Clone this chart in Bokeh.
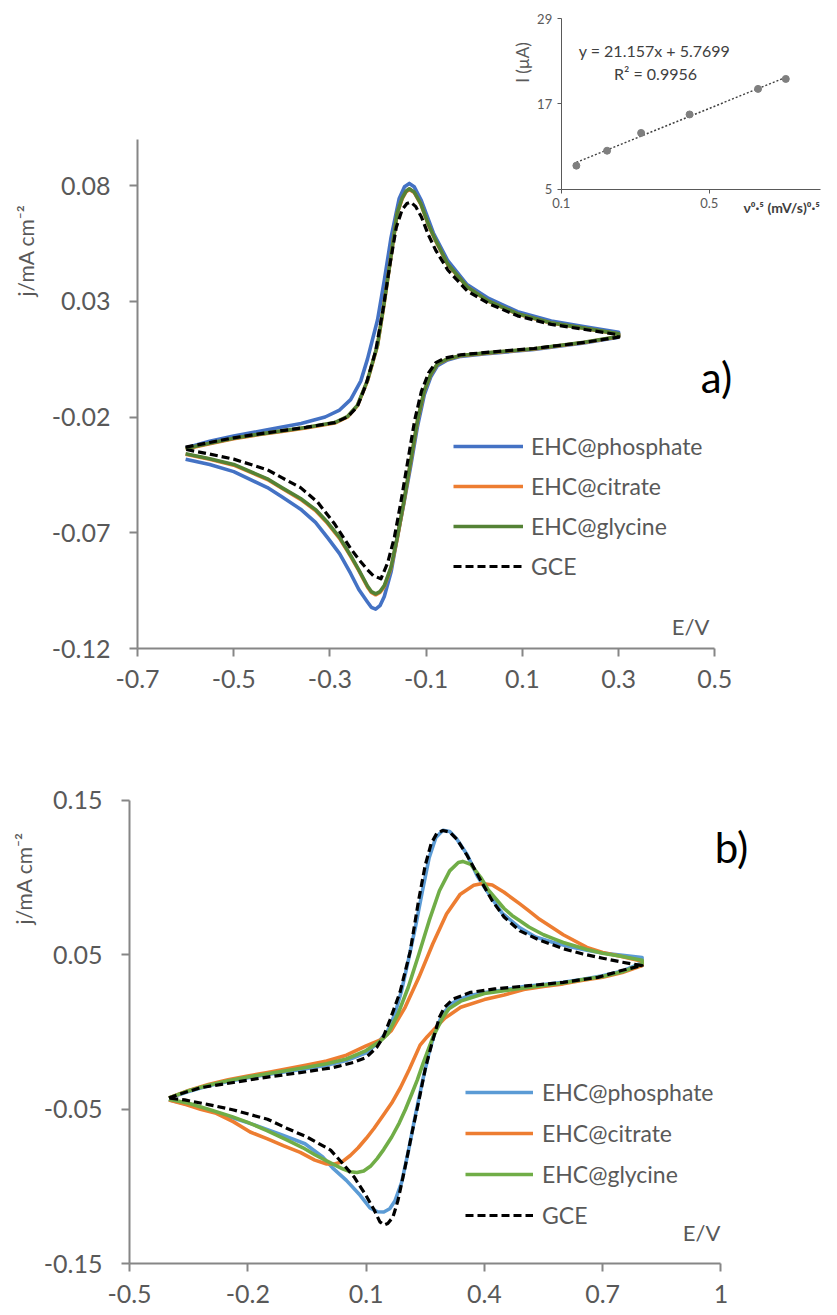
import math
from bokeh.plotting import figure
from bokeh.models import (Range1d, LinearAxis, FixedTicker, NumeralTickFormatter,
                          Label, Legend, LegendItem)
from bokeh.layouts import column
from bokeh.embed import file_html
from bokeh.resources import INLINE

# ---------------- DATA ----------------
series_names = ["EHC@phosphate", "EHC@citrate", "EHC@glycine", "GCE"]

# Panel a) : anodic (forward) then cathodic (reverse) branches, E in V, j in mA cm-2
a_phos_E = [-0.60, -0.55, -0.50, -0.43, -0.36, -0.31, -0.28, -0.257, -0.236, -0.222, -0.201, -0.187, -0.173, -0.156, -0.145,
            -0.135, -0.125, -0.11, -0.085, -0.055, -0.015, 0.03, 0.09, 0.16, 0.23, 0.30,
            0.30, 0.228, 0.124, 0.02, -0.028, -0.0556, -0.0764, -0.090, -0.104, -0.118, -0.132, -0.146, -0.160,
            -0.173, -0.187, -0.196, -0.205, -0.214, -0.222, -0.24, -0.257, -0.28, -0.305, -0.33, -0.361, -0.40, -0.43, -0.50, -0.55, -0.60]
a_phos_j = [-0.0334, -0.0305, -0.0282, -0.0255, -0.0228, -0.0200, -0.0170, -0.0125, -0.0045, 0.0050, 0.0220, 0.0390, 0.0575, 0.0744, 0.0795,
            0.0809, 0.0795, 0.0735, 0.0595, 0.0475, 0.0372, 0.0312, 0.0255, 0.0215, 0.0190, 0.0166,
            0.0145, 0.0120, 0.0092, 0.0072, 0.0062, 0.0046, 0.0022, -0.0025, -0.0105, -0.0240, -0.0410, -0.0570, -0.0720,
            -0.0870, -0.0975, -0.1015, -0.1030, -0.1022, -0.0999, -0.0945, -0.0876, -0.0790, -0.0721, -0.0655, -0.0598, -0.0545, -0.0505, -0.0436, -0.0405, -0.0382]

a_cit_E = [-0.60, -0.55, -0.50, -0.45, -0.40, -0.35, -0.29, -0.263, -0.243, -0.222, -0.201, -0.187, -0.173, -0.160, -0.150,
           -0.142, -0.135, -0.125, -0.111, -0.095, -0.0835, -0.0556, -0.014, 0.0275, 0.09, 0.159, 0.228, 0.30,
           0.30, 0.228, 0.124, 0.02, -0.028, -0.0556, -0.0764, -0.090, -0.104, -0.118, -0.132, -0.146, -0.160, -0.173,
           -0.187, -0.196, -0.205, -0.214, -0.222, -0.24, -0.257, -0.28, -0.305, -0.33, -0.361, -0.40, -0.43, -0.50, -0.55, -0.60]
a_cit_j = [-0.0338, -0.0315, -0.0294, -0.0277, -0.0262, -0.0247, -0.0226, -0.0199, -0.0152, -0.0044, 0.0110, 0.0295, 0.0496, 0.0680, 0.0742,
           0.0772, 0.0783, 0.0770, 0.0719, 0.0628, 0.0575, 0.0460, 0.0360, 0.0302, 0.0245, 0.0206, 0.0183, 0.0158,
           0.0147, 0.0122, 0.0094, 0.0075, 0.0065, 0.0050, 0.0029, -0.0014, -0.0088, -0.0218, -0.0392, -0.0565, -0.0724, -0.0853,
           -0.0933, -0.0958, -0.0968, -0.0958, -0.0934, -0.0864, -0.0802, -0.0724, -0.0659, -0.0604, -0.0556, -0.0508, -0.0470, -0.0408, -0.0382, -0.0361]

a_gly_E = [-0.60, -0.55, -0.50, -0.45, -0.40, -0.35, -0.29, -0.263, -0.243, -0.222, -0.201, -0.187, -0.173, -0.160, -0.150,
           -0.142, -0.135, -0.125, -0.111, -0.095, -0.0835, -0.0556, -0.014, 0.0275, 0.09, 0.159, 0.228, 0.30,
           0.30, 0.228, 0.124, 0.02, -0.028, -0.0556, -0.0764, -0.090, -0.104, -0.118, -0.132, -0.146, -0.160, -0.173,
           -0.187, -0.196, -0.205, -0.214, -0.222, -0.24, -0.257, -0.28, -0.305, -0.33, -0.361, -0.40, -0.43, -0.50, -0.55, -0.60]
a_gly_j = [-0.0336, -0.0313, -0.0292, -0.0275, -0.0260, -0.0245, -0.0224, -0.0197, -0.0150, -0.0042, 0.0112, 0.0297, 0.0498, 0.0683, 0.0745,
           0.0775, 0.0786, 0.0772, 0.0721, 0.0630, 0.0577, 0.0462, 0.0361, 0.0303, 0.0246, 0.0207, 0.0184, 0.0159,
           0.0148, 0.0123, 0.0095, 0.0076, 0.0066, 0.0051, 0.0030, -0.0013, -0.0086, -0.0215, -0.0388, -0.0561, -0.0719, -0.0849,
           -0.0928, -0.0954, -0.0964, -0.0954, -0.0930, -0.0860, -0.0798, -0.0720, -0.0655, -0.0600, -0.0552, -0.0505, -0.0467, -0.0405, -0.0380, -0.0359]

a_gce_E = [-0.60, -0.55, -0.50, -0.45, -0.40, -0.35, -0.29, -0.263, -0.243, -0.225, -0.205, -0.19, -0.176, -0.162, -0.150,
           -0.140, -0.132, -0.122, -0.11, -0.095, -0.08, -0.055, -0.015, 0.03, 0.09, 0.16, 0.23, 0.30,
           0.30, 0.228, 0.124, 0.02, -0.028, -0.06, -0.08, -0.095, -0.11, -0.124, -0.138, -0.152, -0.166, -0.18,
           -0.194, -0.21, -0.222, -0.24, -0.257, -0.291, -0.326, -0.361, -0.40, -0.43, -0.50, -0.55, -0.60]
a_gce_j = [-0.0330, -0.0310, -0.0290, -0.0274, -0.0259, -0.0245, -0.0224, -0.0199, -0.0155, -0.0060, 0.0085, 0.0260, 0.0450, 0.0620, 0.0695,
           0.0722, 0.0728, 0.0710, 0.0665, 0.0585, 0.0520, 0.0435, 0.0345, 0.0290, 0.0237, 0.0200, 0.0178, 0.0155,
           0.0145, 0.0122, 0.0096, 0.0078, 0.0069, 0.0055, 0.0035, -0.0010, -0.0090, -0.0215, -0.0388, -0.0561, -0.0719, -0.0830,
           -0.0899, -0.0885, -0.0860, -0.0815, -0.0768, -0.0660, -0.0567, -0.0505, -0.0462, -0.0428, -0.0382, -0.0360, -0.0340]

# Panel b)
b_phos_E = [-0.40, -0.35, -0.30, -0.25, -0.20, -0.15, -0.10, -0.05, 0.00, 0.05, 0.10, 0.13, 0.155, 0.173, 0.19, 0.207,
            0.225, 0.243, 0.26, 0.277, 0.295, 0.312, 0.33, 0.356, 0.382, 0.406, 0.445, 0.49, 0.53, 0.575, 0.62, 0.66,
            0.70, 0.75, 0.80,
            0.80, 0.75, 0.70, 0.65, 0.60, 0.55, 0.50, 0.45, 0.40, 0.36, 0.32, 0.295, 0.277, 0.26, 0.243, 0.225, 0.207,
            0.19, 0.173, 0.16, 0.145, 0.128, 0.11, 0.085, 0.05, 0.015, -0.01, -0.055, -0.115, -0.185, -0.27, -0.36, -0.40]
b_phos_j = [-0.0427, -0.0385, -0.0348, -0.0320, -0.0296, -0.0275, -0.0256, -0.0237, -0.0215, -0.0185, -0.0135, -0.0070, 0.0009, 0.0117, 0.0268, 0.0462,
            0.0678, 0.0915, 0.1130, 0.1260, 0.1307, 0.1299, 0.1250, 0.1150, 0.1010, 0.0915, 0.0770, 0.0675, 0.0615, 0.0580, 0.0550, 0.0530,
            0.0512, 0.0497, 0.0483,
            0.0450, 0.0395, 0.0365, 0.0342, 0.0322, 0.0308, 0.0295, 0.0272, 0.0255, 0.0235, 0.0190, 0.0120, 0.0020, -0.0130, -0.0320, -0.0540, -0.0775,
            -0.0975, -0.1095, -0.1145, -0.1166, -0.1164, -0.1140, -0.1058, -0.0961, -0.0880, -0.0810, -0.0724, -0.0665, -0.0600, -0.0530, -0.0465, -0.0439]

b_cit_E = [-0.40, -0.35, -0.30, -0.25, -0.20, -0.15, -0.10, -0.05, 0.00, 0.05, 0.10, 0.138, 0.164, 0.199, 0.234, 0.269,
           0.304, 0.339, 0.373, 0.395, 0.42, 0.45, 0.49, 0.513, 0.54, 0.575, 0.60, 0.66, 0.70, 0.745, 0.80,
           0.80, 0.75, 0.70, 0.65, 0.60, 0.55, 0.50, 0.45, 0.40, 0.34, 0.30, 0.28, 0.255, 0.237, 0.21, 0.187, 0.165,
           0.144, 0.12, 0.10, 0.08, 0.06, 0.04, 0.02, 0.0, -0.03, -0.067, -0.11, -0.15, -0.194, -0.236, -0.28, -0.32,
           -0.355, -0.40]
b_cit_j = [-0.0427, -0.0378, -0.0340, -0.0310, -0.0285, -0.0262, -0.0238, -0.0214, -0.0188, -0.0150, -0.0090, -0.0050, 0.0009, 0.0160, 0.0354, 0.0570,
           0.0764, 0.0893, 0.0950, 0.0962, 0.0952, 0.0905, 0.0830, 0.0785, 0.0730, 0.0672, 0.0630, 0.0548, 0.0515, 0.0490, 0.0458,
           0.0430, 0.0385, 0.0355, 0.0335, 0.0312, 0.0295, 0.0275, 0.0240, 0.0210, 0.0160, 0.0090, 0.0037, -0.0030, -0.0085, -0.0240, -0.0361, -0.0460,
           -0.0538, -0.0625, -0.0690, -0.0750, -0.0800, -0.0840, -0.0855, -0.0855, -0.0830, -0.0780, -0.0736, -0.0692, -0.0648, -0.0582, -0.0527, -0.0500,
           -0.0471, -0.0440]

b_gly_E = [-0.40, -0.35, -0.30, -0.25, -0.20, -0.15, -0.10, -0.05, 0.00, 0.05, 0.10, 0.138, 0.155, 0.181, 0.207, 0.234,
           0.26, 0.286, 0.312, 0.334, 0.345, 0.365, 0.391, 0.41, 0.43, 0.45, 0.47, 0.49, 0.513, 0.55, 0.575, 0.60,
           0.66, 0.70, 0.75, 0.80,
           0.80, 0.75, 0.70, 0.65, 0.60, 0.55, 0.50, 0.45, 0.40, 0.34, 0.31, 0.295, 0.27, 0.245, 0.23, 0.216, 0.20,
           0.184, 0.165, 0.145, 0.128, 0.111, 0.094, 0.077, 0.06, 0.042, 0.02, 0.0, -0.03, -0.06, -0.10, -0.15, -0.20,
           -0.24, -0.30, -0.35, -0.40]
b_gly_j = [-0.0427, -0.0380, -0.0345, -0.0316, -0.0292, -0.0270, -0.0249, -0.0228, -0.0205, -0.0175, -0.0120, -0.0055, -0.0012, 0.0117, 0.0290, 0.0505,
           0.0721, 0.0915, 0.1044, 0.1098, 0.1105, 0.1087, 0.1001, 0.0920, 0.0860, 0.0800, 0.0755, 0.0721, 0.0680, 0.0630, 0.0605, 0.0580,
           0.0534, 0.0510, 0.0489, 0.0465,
           0.0440, 0.0390, 0.0360, 0.0340, 0.0318, 0.0302, 0.0285, 0.0268, 0.0250, 0.0200, 0.0150, 0.0096, -0.0030, -0.0200, -0.0310, -0.0400, -0.0500,
           -0.0590, -0.0680, -0.0760, -0.0820, -0.0870, -0.0900, -0.0910, -0.0905, -0.0888, -0.0860, -0.0835, -0.0795, -0.0750, -0.0700, -0.0640, -0.0585,
           -0.0548, -0.0500, -0.0462, -0.0435]

b_gce_E = [-0.40, -0.37, -0.32, -0.236, -0.15, -0.067, 0.017, 0.068, 0.10, 0.127, 0.144, 0.161, 0.186, 0.212, 0.233, 0.25,
           0.265, 0.28, 0.295, 0.312, 0.33, 0.356, 0.39, 0.42, 0.45, 0.49, 0.54, 0.60, 0.65, 0.70, 0.75, 0.80,
           0.80, 0.75, 0.688, 0.60, 0.513, 0.426, 0.365, 0.321, 0.299, 0.286, 0.269, 0.251, 0.234, 0.216, 0.199, 0.181,
           0.168, 0.155, 0.146, 0.135, 0.12, 0.10, 0.07, 0.04, 0.01, -0.05, -0.10, -0.15, -0.236, -0.30, -0.36, -0.40]
b_gce_j = [-0.0427, -0.0400, -0.0361, -0.0327, -0.0292, -0.0263, -0.0230, -0.0197, -0.0165, -0.0100, -0.0030, 0.0081, 0.0257, 0.0523, 0.0850, 0.1080,
           0.1220, 0.1290, 0.1305, 0.1295, 0.1250, 0.1145, 0.0985, 0.0850, 0.0745, 0.0655, 0.0595, 0.0540, 0.0505, 0.0478, 0.0452, 0.0430,
           0.0430, 0.0400, 0.0354, 0.0322, 0.0300, 0.0279, 0.0257, 0.0214, 0.0160, 0.0096, -0.0055, -0.0228, -0.0443, -0.0659, -0.0875, -0.1090,
           -0.1200, -0.1240, -0.1250, -0.1230, -0.1150, -0.1060, -0.0940, -0.0850, -0.0765, -0.0680, -0.0625, -0.0565, -0.0505, -0.0470, -0.0440, -0.0427]

# Inset: peak current vs square root of scan rate
inset_x = [0.141, 0.224, 0.316, 0.447, 0.632, 0.707]
inset_y = [8.3, 10.4, 12.9, 15.5, 19.1, 20.5]
fit_slope = 21.157
fit_intercept = 5.7699
fit_r2 = 0.9956

a_xticks = [-0.7, -0.5, -0.3, -0.1, 0.1, 0.3, 0.5]
a_yticks = [-0.12, -0.07, -0.02, 0.03, 0.08]
b_xticks = [-0.5, -0.2, 0.1, 0.4, 0.7, 1.0]
b_yticks = [-0.15, -0.05, 0.05, 0.15]
inset_xticks = [0.1, 0.5]
inset_yticks = [5, 17, 29]

colors_a = ["#4472C4", "#ED7D31", "#548235", "black"]
colors_b = ["#5B9BD5", "#ED7D31", "#70AD47", "black"]

FONT = "Lato"
AXIS_GREY = "#868686"
TEXT_GREY = "#595959"
W = 837

# ---------------- helpers ----------------
def style_axis(ax, size="25px", standoff=14):
    ax.axis_line_color = AXIS_GREY
    ax.axis_line_width = 2
    ax.major_tick_line_color = AXIS_GREY
    ax.major_tick_line_width = 2
    ax.major_tick_out = 8
    ax.major_tick_in = 0
    ax.minor_tick_line_color = None
    ax.major_label_text_font = FONT
    ax.major_label_text_font_size = size
    ax.major_label_text_color = TEXT_GREY
    ax.major_label_standoff = standoff


def style_inset_axis(ax):
    ax.axis_line_color = "#595959"
    ax.axis_line_width = 1
    ax.major_tick_line_color = "#595959"
    ax.major_tick_line_width = 1
    ax.major_tick_out = 4
    ax.major_tick_in = 0
    ax.minor_tick_line_color = None
    ax.major_label_text_font = FONT
    ax.major_label_text_font_size = "13px"
    ax.major_label_text_color = TEXT_GREY
    ax.major_label_standoff = 5


# ---------------- figure 1 : panel a + inset ----------------
H1 = 760
A_AX, A_B = 137, 648          # pixel x of the E=-0.7 axis, pixel y of the j=-0.12 axis
a_px_per_V = 481.1
a_px_per_j = 2315.0
a_x_start = -0.7 - A_AX / a_px_per_V
a_x_end = -0.7 + (W - A_AX) / a_px_per_V
a_y_start = -0.12 - (H1 - A_B) / a_px_per_j
a_y_end = -0.12 + A_B / a_px_per_j

p1 = figure(width=W, height=H1, output_backend="svg", toolbar_location=None,
            x_range=Range1d(a_x_start, a_x_end), y_range=Range1d(a_y_start, a_y_end),
            x_axis_type=None, y_axis_type=None,
            min_border_left=0, min_border_right=0, min_border_top=0, min_border_bottom=0)
p1.outline_line_color = None
p1.background_fill_color = "white"
p1.border_fill_color = "white"

xa = LinearAxis(ticker=FixedTicker(ticks=a_xticks), bounds=(-0.7, 0.5), fixed_location=-0.12,
                formatter=NumeralTickFormatter(format="0.0"))
style_axis(xa, standoff=13)
ya = LinearAxis(ticker=FixedTicker(ticks=a_yticks), bounds=(-0.12, 0.10), fixed_location=-0.7,
                formatter=NumeralTickFormatter(format="0.00"))
style_axis(ya, standoff=19)
p1.add_layout(xa, "below")
p1.add_layout(ya, "left")

# inset ranges (mapped into the upper right of the same canvas)
ins_px_per_x = 370.0
ins_px_per_y = 7.108
ins_x0_px, ins_y0_px = 560.7, 188.6  # pixel of (0.1, 5)
ix_start = 0.1 - ins_x0_px / ins_px_per_x
ix_end = 0.1 + (W - ins_x0_px) / ins_px_per_x
iy_end = 5 + ins_y0_px / ins_px_per_y
iy_start = 5 - (H1 - ins_y0_px) / ins_px_per_y
p1.extra_x_ranges = {"ix": Range1d(ix_start, ix_end)}
p1.extra_y_ranges = {"iy": Range1d(iy_start, iy_end)}

ixa = LinearAxis(x_range_name="ix", y_range_name="iy", fixed_location=5, bounds=(0.1, 0.8),
                 ticker=FixedTicker(ticks=inset_xticks), formatter=NumeralTickFormatter(format="0.0"))
style_inset_axis(ixa)
iya = LinearAxis(x_range_name="ix", y_range_name="iy", fixed_location=0.1, bounds=(5, 29),
                 ticker=FixedTicker(ticks=inset_yticks))
style_inset_axis(iya)
p1.add_layout(ixa, "below")
p1.add_layout(iya, "left")

fit_x = [min(inset_x), max(inset_x)]
fit_y = [fit_slope * v + fit_intercept for v in fit_x]
p1.line(fit_x, fit_y, x_range_name="ix", y_range_name="iy", line_color="#404040",
        line_width=1.5, line_dash="2 2")
p1.scatter(inset_x, inset_y, x_range_name="ix", y_range_name="iy", size=7,
           fill_color="#7F7F7F", line_color="#7F7F7F")


def ins(px, py):
    return 0.1 + (px - ins_x0_px) / ins_px_per_x, 5 + (ins_y0_px - py) / ins_px_per_y


ex, ey = ins(654, 50)
p1.add_layout(Label(x=ex, y=ey, x_range_name="ix", y_range_name="iy",
                    text="y = %.3fx + %.4f" % (fit_slope, fit_intercept),
                    text_font=FONT, text_font_size="16px", text_color="#404040",
                    text_align="center", text_baseline="middle"))
ex, ey = ins(655, 73)
p1.add_layout(Label(x=ex, y=ey, x_range_name="ix", y_range_name="iy",
                    text="R\u00b2 = %.4f" % fit_r2,
                    text_font=FONT, text_font_size="16px", text_color="#404040",
                    text_align="center", text_baseline="middle"))
ex, ey = ins(522, 62)
p1.add_layout(Label(x=ex, y=ey, x_range_name="ix", y_range_name="iy",
                    text="I (\u00b5A)", angle=math.pi / 2,
                    text_font=FONT, text_font_size="17px", text_color=TEXT_GREY,
                    text_align="center", text_baseline="middle"))
ex, ey = ins(743, 207)
p1.add_layout(Label(x=ex, y=ey, x_range_name="ix", y_range_name="iy",
                    text="\u03bd\u2070\u00b7\u2075 (mV/s)\u2070\u00b7\u2075",
                    text_font=FONT, text_font_size="14px", text_font_style="bold",
                    text_color="#404040", text_align="left", text_baseline="middle"))

# panel a curves
a_series = [(a_phos_E, a_phos_j), (a_cit_E, a_cit_j), (a_gly_E, a_gly_j), (a_gce_E, a_gce_j)]
a_rend = []
for (E, j), c, name in zip(a_series, colors_a, series_names):
    if name == "GCE":
        r = p1.line(E, j, line_color=c, line_width=3.2, line_dash="8 4", line_join="round")
    else:
        r = p1.line(E, j, line_color=c, line_width=3.6, line_join="round")
    a_rend.append(r)


def a_data(px, py):
    return -0.7 + (px - A_AX) / a_px_per_V, 0.08 - (py - 185) / a_px_per_j


lx, ly = a_data(25, 250)
p1.add_layout(Label(x=lx, y=ly, text="j/mA cm\u207b\u00b2", angle=math.pi / 2,
                    text_font=FONT, text_font_size="21px", text_color=TEXT_GREY,
                    text_align="center", text_baseline="middle"))
lx, ly = a_data(690, 626)
p1.add_layout(Label(x=lx, y=ly, text="E/V", text_font=FONT, text_font_size="22px",
                    text_color=TEXT_GREY, text_align="center", text_baseline="middle"))
lx, ly = a_data(716, 376)
p1.add_layout(Label(x=lx, y=ly, text="a)", text_font=FONT, text_font_size="42px",
                    text_color="black", text_align="center", text_baseline="middle"))

leg_a = Legend(items=[LegendItem(label=n, renderers=[r]) for n, r in zip(series_names, a_rend)],
               location=(316 + A_AX, 68 + (H1 - A_B)), orientation="vertical",
               glyph_width=70, glyph_height=20, label_standoff=8, spacing=12,
               padding=0, margin=0, border_line_alpha=0, background_fill_alpha=0,
               label_text_font=FONT, label_text_font_size="23px", label_text_color=TEXT_GREY,
               label_height=20)
p1.add_layout(leg_a, "center")

# ---------------- figure 2 : panel b ----------------
H2 = 1315 - H1
B_AX = 129                     # pixel x of the E=-0.5 axis
B_T_abs, B_B_abs = 800, 1263   # absolute pixel y of j=0.15 and j=-0.15
b_px_per_V = 394.3
b_px_per_j = 1546.0
b_x_start = -0.5 - B_AX / b_px_per_V
b_x_end = -0.5 + (W - B_AX) / b_px_per_V
b_y_end = 0.15 + (B_T_abs - H1) / b_px_per_j
b_y_start = -0.15 - (1315 - B_B_abs) / b_px_per_j

p2 = figure(width=W, height=H2, output_backend="svg", toolbar_location=None,
            x_range=Range1d(b_x_start, b_x_end), y_range=Range1d(b_y_start, b_y_end),
            x_axis_type=None, y_axis_type=None,
            min_border_left=0, min_border_right=0, min_border_top=0, min_border_bottom=0)
p2.outline_line_color = None
p2.background_fill_color = "white"
p2.border_fill_color = "white"

xb = LinearAxis(ticker=FixedTicker(ticks=b_xticks), bounds=(-0.5, 1.0), fixed_location=-0.15,
                formatter=NumeralTickFormatter(format="0.0"),
                major_label_overrides={1.0: "1"})
style_axis(xb, standoff=13)
yb = LinearAxis(ticker=FixedTicker(ticks=b_yticks), bounds=(-0.15, 0.15), fixed_location=-0.5,
                formatter=NumeralTickFormatter(format="0.00"))
style_axis(yb, standoff=19)
p2.add_layout(xb, "below")
p2.add_layout(yb, "left")

b_series = [(b_phos_E, b_phos_j), (b_cit_E, b_cit_j), (b_gly_E, b_gly_j), (b_gce_E, b_gce_j)]
b_rend = []
for (E, j), c, name in zip(b_series, colors_b, series_names):
    if name == "GCE":
        r = p2.line(E, j, line_color=c, line_width=3.2, line_dash="8 4", line_join="round")
    else:
        r = p2.line(E, j, line_color=c, line_width=3.6, line_join="round")
    b_rend.append(r)


def b_data(px, py):
    return -0.5 + (px - B_AX) / b_px_per_V, 0.15 - (py - B_T_abs) / b_px_per_j


lx, ly = b_data(23, 878)
p2.add_layout(Label(x=lx, y=ly, text="j/mA cm\u207b\u00b2", angle=math.pi / 2,
                    text_font=FONT, text_font_size="21px", text_color=TEXT_GREY,
                    text_align="center", text_baseline="middle"))
lx, ly = b_data(701, 1233)
p2.add_layout(Label(x=lx, y=ly, text="E/V", text_font=FONT, text_font_size="22px",
                    text_color=TEXT_GREY, text_align="center", text_baseline="middle"))
lx, ly = b_data(731, 847)
p2.add_layout(Label(x=lx, y=ly, text="b)", text_font=FONT, text_font_size="42px",
                    text_color="black", text_align="center", text_baseline="middle"))

leg_b = Legend(items=[LegendItem(label=n, renderers=[r]) for n, r in zip(series_names, b_rend)],
               location=(336 + B_AX, 34 + (1315 - B_B_abs)), orientation="vertical",
               glyph_width=68, glyph_height=20, label_standoff=9, spacing=13,
               padding=0, margin=0, border_line_alpha=0, background_fill_alpha=0,
               label_text_font=FONT, label_text_font_size="23px", label_text_color=TEXT_GREY,
               label_height=20)
p2.add_layout(leg_b, "center")

layout = column(p1, p2, spacing=0)
open("out.html", "w").write(file_html(layout, INLINE))
